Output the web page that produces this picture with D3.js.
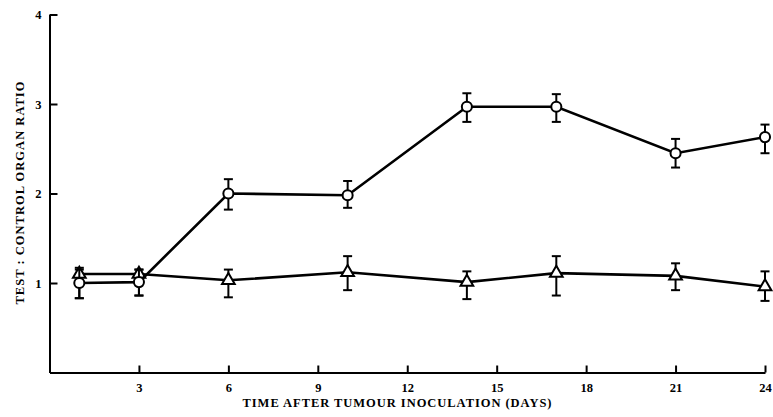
<!DOCTYPE html>
<html lang="en">
<head>
  <meta charset="UTF-8">
  <title>Test : control organ ratio</title>
  <script src="https://d3js.org/d3.v7.min.js"></script>
  <style>
    html, body { margin: 0; padding: 0; background: #fff; }
    svg { display: block; }
    text { font-family: "Liberation Serif", "DejaVu Serif", serif; font-weight: bold; fill: #000; }
    .axis path, .axis line { stroke: #000; stroke-width: 2; }
    .axis text { font-size: 12.5px; }
  </style>
</head>
<body>
  <svg width="773" height="417"></svg>

  <script>
    // days of sampling
    const days = [1, 3, 6, 10, 14, 17, 21, 24];

    // open circles
    const circleMean = [1.00, 1.01, 2.00, 1.98, 2.97, 2.97, 2.45, 2.63];
    const circleLow  = [0.83, 0.86, 1.82, 1.84, 2.80, 2.80, 2.29, 2.45];
    const circleHigh = [1.15, 1.15, 2.16, 2.14, 3.12, 3.11, 2.61, 2.77];

    // open triangles
    const triMean = [1.10, 1.10, 1.03, 1.12, 1.01, 1.11, 1.08, 0.96];
    const triLow  = [0.83, 0.86, 0.84, 0.92, 0.82, 0.86, 0.92, 0.80];
    const triHigh = [1.17, 1.15, 1.15, 1.30, 1.13, 1.30, 1.22, 1.13];

    const xTicks = [3, 6, 9, 12, 15, 18, 21, 24];
    const yTicks = [1, 2, 3, 4];

    const svg = d3.select("svg");

    const x = d3.scaleLinear().domain([0, 24]).range([49.5, 765]);
    const y = d3.scaleLinear().domain([0, 4]).range([372.5, 14.5]);

    // axes, ticks pointing inward
    svg.append("g")
      .attr("class", "axis")
      .attr("transform", `translate(0,${y(0)})`)
      .call(d3.axisBottom(x).tickValues(xTicks).tickFormat(d3.format("d"))
        .tickSizeInner(-7).tickSizeOuter(0).tickPadding(9))
      .call(g => g.selectAll("text").attr("dy", "0.85em"));

    svg.append("g")
      .attr("class", "axis")
      .attr("transform", `translate(${x(0)},0)`)
      .call(d3.axisLeft(y).tickValues(yTicks).tickFormat(d3.format("d"))
        .tickSizeInner(-8).tickSizeOuter(0).tickPadding(8));

    // axis titles
    svg.append("text")
      .attr("x", 397)
      .attr("y", 407)
      .attr("text-anchor", "middle")
      .attr("font-size", 12.5)
      .attr("textLength", 309)
      .attr("lengthAdjust", "spacing")
      .text("TIME AFTER TUMOUR INOCULATION (DAYS)");

    svg.append("text")
      .attr("transform", "translate(24,193) rotate(-90)")
      .attr("text-anchor", "middle")
      .attr("font-size", 12.5)
      .attr("textLength", 223)
      .attr("lengthAdjust", "spacing")
      .text("TEST : CONTROL ORGAN RATIO");

    function drawSeries(mean, low, high, shape) {
      const pts = days.map((d, i) => ({ d, m: mean[i], lo: low[i], hi: high[i] }));
      const g = svg.append("g");

      g.append("path")
        .datum(pts)
        .attr("fill", "none")
        .attr("stroke", "#000")
        .attr("stroke-width", 2.6)
        .attr("d", d3.line().x(p => x(p.d)).y(p => y(p.m)));

      const bars = g.selectAll("g.err").data(pts).join("g").attr("class", "err")
        .attr("stroke", "#000").attr("stroke-width", 2);
      bars.append("line")
        .attr("x1", p => x(p.d)).attr("x2", p => x(p.d))
        .attr("y1", p => y(p.lo)).attr("y2", p => y(p.hi));
      bars.append("line")
        .attr("x1", p => x(p.d) - 4.5).attr("x2", p => x(p.d) + 4.5)
        .attr("y1", p => y(p.lo)).attr("y2", p => y(p.lo));
      bars.append("line")
        .attr("x1", p => x(p.d) - 4.5).attr("x2", p => x(p.d) + 4.5)
        .attr("y1", p => y(p.hi)).attr("y2", p => y(p.hi));

      g.selectAll("path.mk").data(pts).join("path")
        .attr("class", "mk")
        .attr("transform", p => `translate(${x(p.d)},${y(p.m)})`)
        .attr("d", d3.symbol().type(shape).size(shape === d3.symbolCircle ? 80 : 70))
        .attr("fill", "#fff")
        .attr("stroke", "#000")
        .attr("stroke-width", 2);
    }

    drawSeries(triMean, triLow, triHigh, d3.symbolTriangle);
    drawSeries(circleMean, circleLow, circleHigh, d3.symbolCircle);
  </script>
</body>
</html>
